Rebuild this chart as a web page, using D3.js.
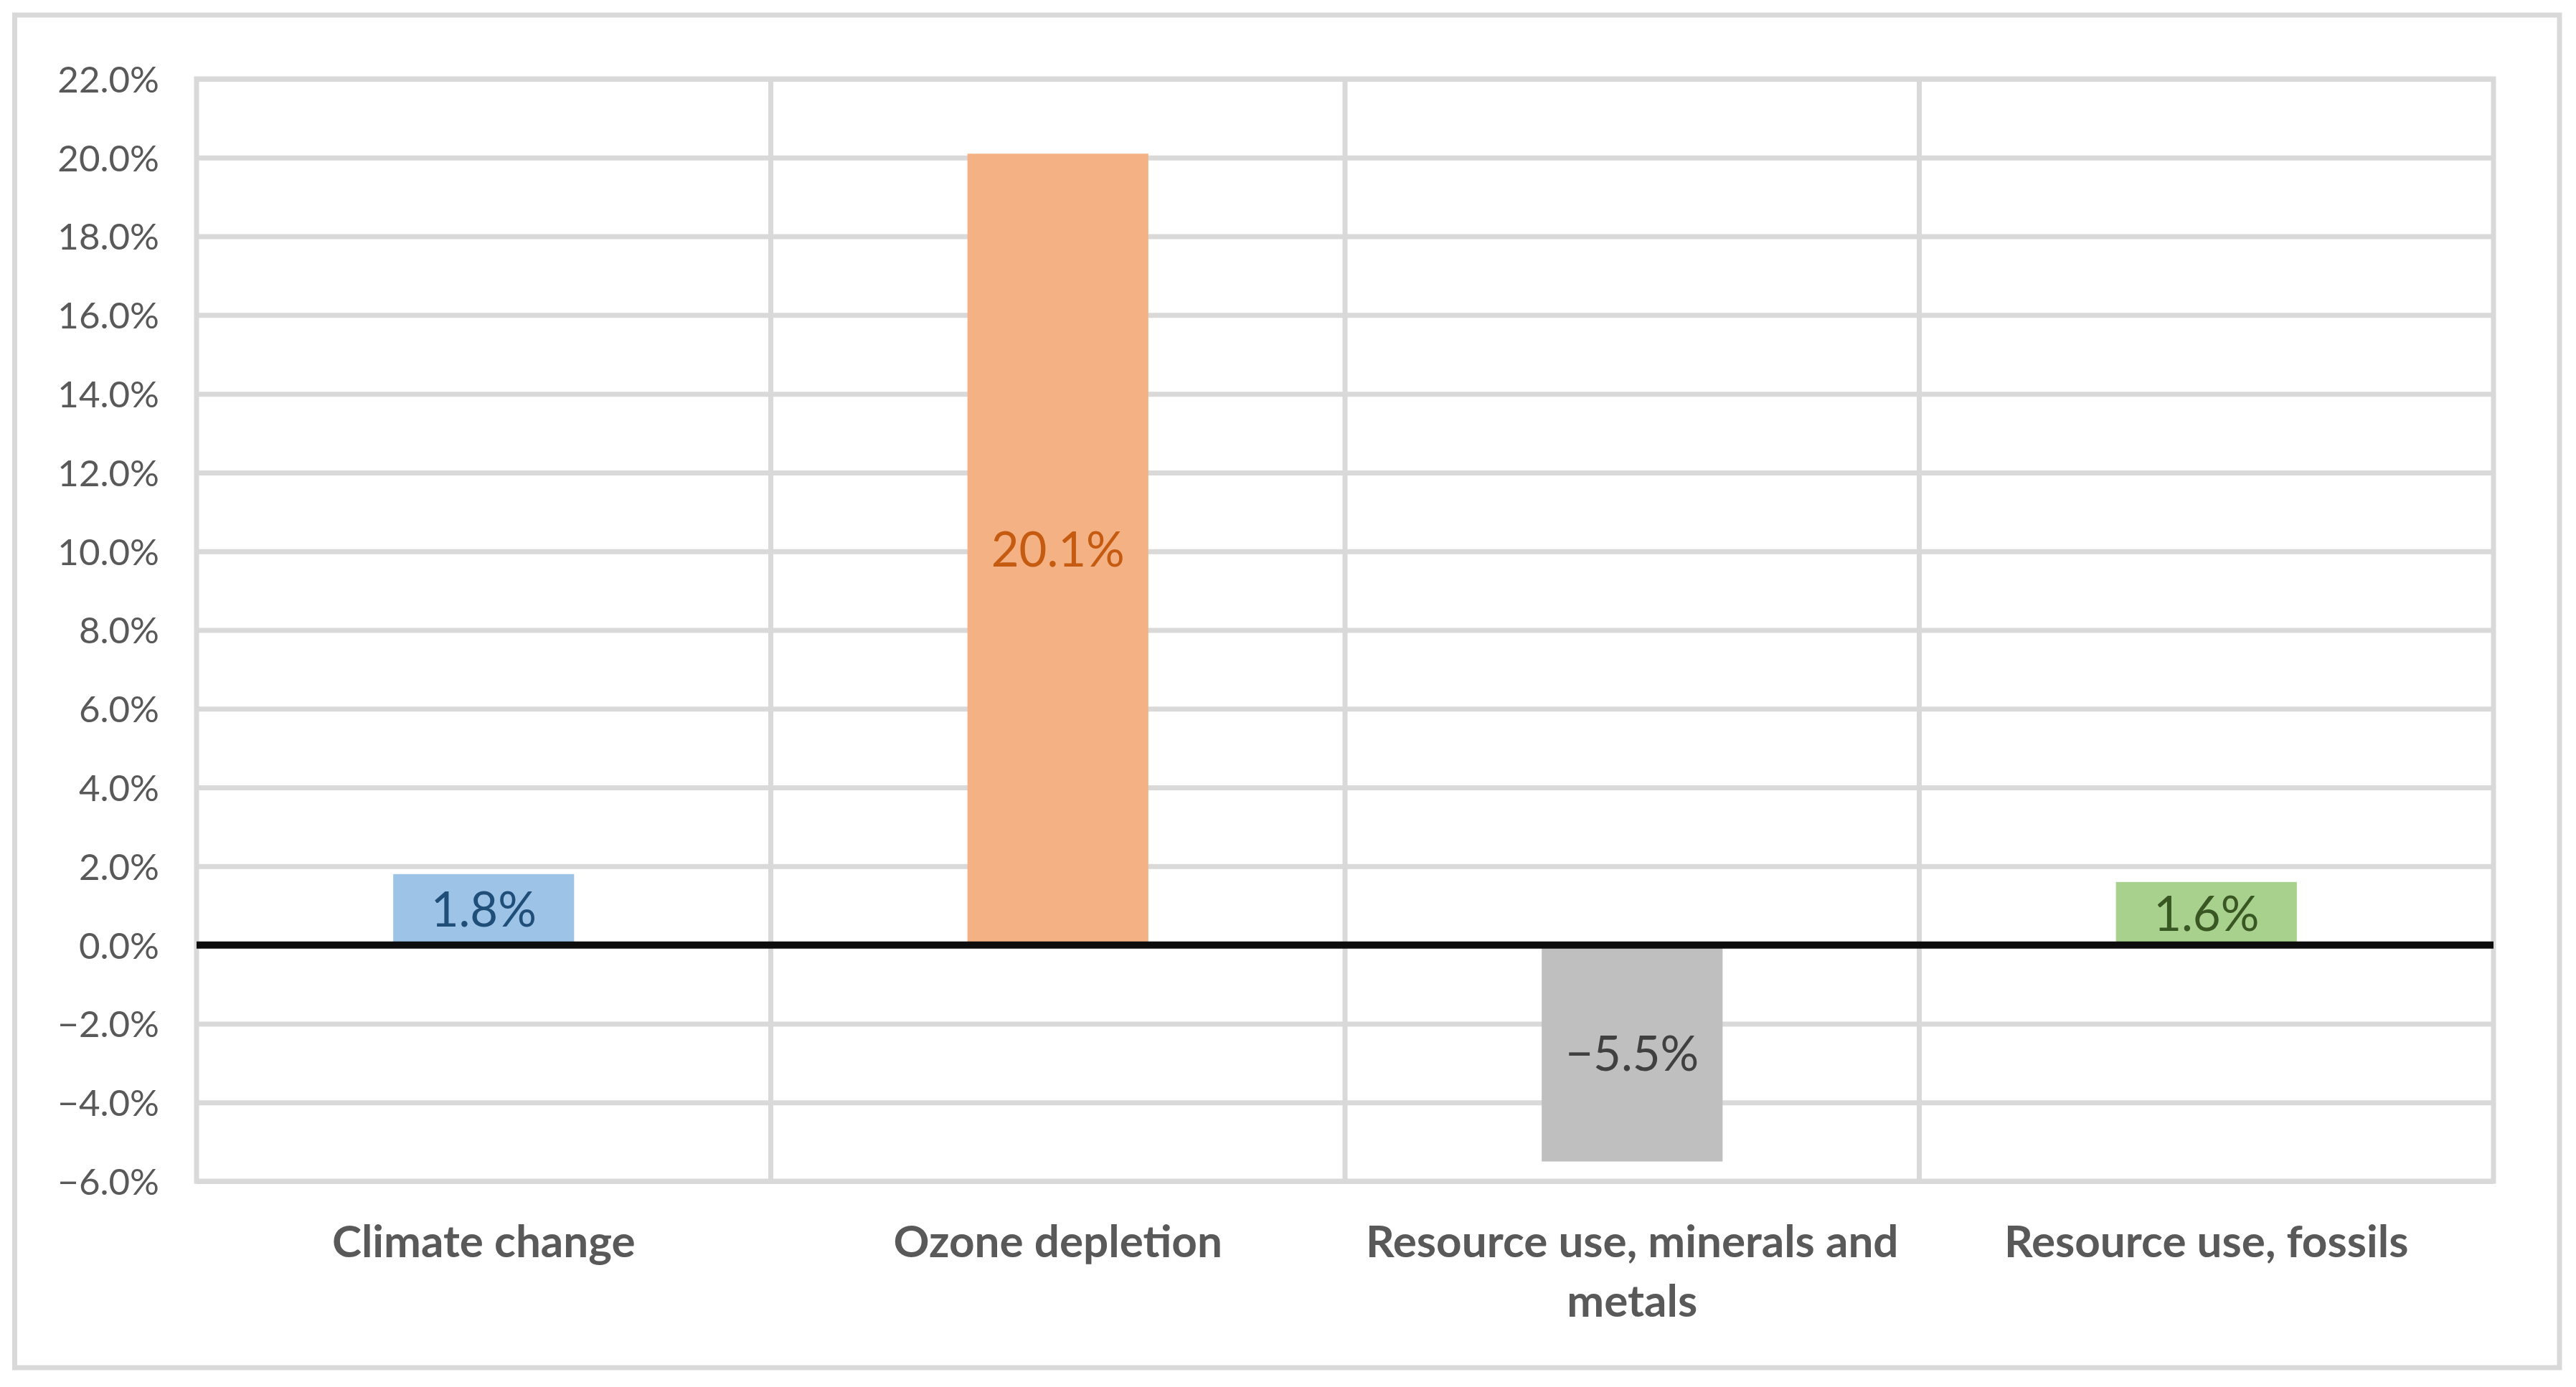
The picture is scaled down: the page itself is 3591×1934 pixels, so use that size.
<!DOCTYPE html>
<html>
<head>
<meta charset="utf-8">
<script src="https://cdn.jsdelivr.net/npm/d3@7"></script>
<style>
  body { margin: 0; background: #fff; }
  svg { display: block; font-family: Lato, "Noto Sans", sans-serif; }
</style>
</head>
<body>
<div id="chart"></div>
<script>
const categories = ['Climate change', 'Ozone depletion', 'Resource use, minerals and metals', 'Resource use, fossils'];
const values = [1.8, 20.1, -5.5, 1.6];
const barColors = ['#9dc3e6', '#f4b183', '#bfbfbf', '#a9d18e'];
const labelColors = ['#1f4e79', '#c55a11', '#404040', '#385723'];
const yTicks = [-6, -4, -2, 0, 2, 4, 6, 8, 10, 12, 14, 16, 18, 20, 22];

const W = 3591, H = 1934;
const plotL = 274, plotR = 3476, plotT = 110, plotB = 1647;
const GRID = '#d9d9d9';

const pct = d => (d < 0 ? '\u2212' : '') + Math.abs(d).toFixed(1) + '%';

const svg = d3.select('#chart').append('svg')
	.attr('width', W)
	.attr('height', H);

svg.append('rect')
	.attr('width', W).attr('height', H)
	.attr('fill', '#fff');

// outer frame
svg.append('rect')
	.attr('x', 20.5).attr('y', 21)
	.attr('width', 3568 - 20.5).attr('height', 1907 - 21)
	.attr('fill', 'none')
	.attr('stroke', GRID)
	.attr('stroke-width', 7);

const x = d3.scaleBand().domain(categories).range([plotL, plotR]).padding(0);
const y = d3.scaleLinear().domain([-6, 22]).range([plotB, plotT]);

// horizontal grid + tick labels
const yAxis = svg.append('g')
	.attr('transform', `translate(${plotL},0)`)
	.call(d3.axisLeft(y)
		.tickValues(yTicks)
		.tickSize(-(plotR - plotL))
		.tickPadding(52)
		.tickFormat(pct));
yAxis.select('.domain').remove();
yAxis.selectAll('.tick line')
	.attr('stroke', GRID)
	.attr('stroke-width', 7);
yAxis.selectAll('.tick text')
	.attr('fill', '#595959')
	.attr('font-size', 51)
	.attr('font-family', 'Lato')
	.attr('dy', '0.36em');

// vertical grid between categories
svg.append('g').selectAll('line')
	.data(categories.slice(1))
	.join('line')
	.attr('x1', d => x(d)).attr('x2', d => x(d))
	.attr('y1', plotT).attr('y2', plotB)
	.attr('stroke', GRID)
	.attr('stroke-width', 7);

// plot area border
svg.append('rect')
	.attr('x', plotL).attr('y', plotT)
	.attr('width', plotR - plotL).attr('height', plotB - plotT)
	.attr('fill', 'none')
	.attr('stroke', GRID)
	.attr('stroke-width', 7);

const barW = x.bandwidth() * 0.315;
svg.append('g').selectAll('rect')
	.data(values)
	.join('rect')
	.attr('x', (d, i) => x(categories[i]) + x.bandwidth() / 2 - barW / 2)
	.attr('y', d => y(Math.max(0, d)))
	.attr('width', barW)
	.attr('height', d => Math.abs(y(d) - y(0)))
	.attr('fill', (d, i) => barColors[i]);

// zero line
svg.append('line')
	.attr('x1', plotL).attr('x2', plotR)
	.attr('y1', y(0)).attr('y2', y(0))
	.attr('stroke', '#0d0d0d')
	.attr('stroke-width', 10);

// data labels, centred in bars
svg.append('g').selectAll('text')
	.data(values)
	.join('text')
	.attr('x', (d, i) => x(categories[i]) + x.bandwidth() / 2)
	.attr('y', d => (y(d) + y(0)) / 2)
	.attr('dy', '0.36em')
	.attr('text-anchor', 'middle')
	.attr('font-size', 67)
	.attr('fill', (d, i) => labelColors[i])
	.text(pct);

// category labels, wrapped to band width
const catText = svg.append('g').selectAll('text')
	.data(categories)
	.join('text')
	.attr('x', d => x(d) + x.bandwidth() / 2)
	.attr('y', 1753)
	.attr('text-anchor', 'middle')
	.attr('font-size', 62)
	.attr('font-weight', 'bold')
	.attr('fill', '#595959');

catText.each(function(d) {
	const t = d3.select(this);
	const cx = t.attr('x');
	let line = [];
	let tspan = t.append('tspan').attr('x', cx);
	d.split(' ').forEach(w => {
		line.push(w);
		tspan.text(line.join(' '));
		if (tspan.node().getComputedTextLength() > x.bandwidth() - 20 && line.length > 1) {
			line.pop();
			tspan.text(line.join(' '));
			line = [w];
			tspan = t.append('tspan').attr('x', cx).attr('dy', 83).text(w);
		}
	});
});
</script>
</body>
</html>
